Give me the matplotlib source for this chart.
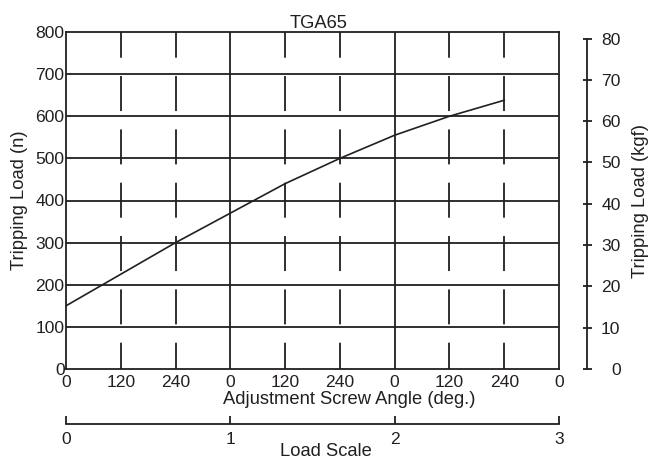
import matplotlib
matplotlib.use("Agg")
import matplotlib.pyplot as plt
import numpy as np

plt.rcParams['font.family'] = ['Liberation Sans', 'DejaVu Sans']
plt.rcParams['lines.scale_dashes'] = False

# ---- data ----
title = "TGA65"
angle_deg = [0, 120, 240, 360, 480, 600, 720, 840, 960]          # cumulative screw angle
load_n = [150, 225, 300, 370, 440, 500, 555, 600, 638]           # tripping load (N)
angle_tick_labels = ["0", "120", "240", "0", "120", "240", "0", "120", "240", "0"]
load_scale_ticks = [0, 1, 2, 3]
y_ticks_n = list(range(0, 801, 100))
y_ticks_kgf = list(range(0, 81, 10))
N_PER_KGF = 9.80665

ink = '#231f20'
FS_LAB = 13.2
FS_TICK = 12.6
W, H, DPI = 648, 466, 100
fig = plt.figure(figsize=(W / DPI, H / DPI), dpi=DPI)

def frac(x0, y0, x1, y1):
    return [x0 / W, 1 - y1 / H, (x1 - x0) / W, (y1 - y0) / H]

L, R, T, B = 66, 559, 32, 369
ax = fig.add_axes(frac(L, T, R, B))
ax.set_xlim(0, 3)
ax.set_ylim(0, 800)

# grid: horizontal solid lines
for v in y_ticks_n[1:-1]:
    ax.axhline(v, color=ink, lw=1.3, zorder=1)
# vertical lines: solid at whole turns, dashed at 120/240 deg
pxpt = DPI / 72.0
dash = (8.7 / pxpt, (35 / pxpt, 18.33 / pxpt))
tick_pos = [a / 360 for a in range(0, 1081, 120)]
for p in tick_pos[1:-1]:
    if abs(p - round(p)) < 1e-9:
        ax.axvline(p, color=ink, lw=1.3, zorder=1)
    else:
        ax.vlines(p, 0, 800, colors=ink, lw=1.3, linestyles=[dash], zorder=1)

# curve
ax.plot([a / 360 for a in angle_deg], load_n, color=ink, lw=1.2, zorder=3)

for s in ax.spines.values():
    s.set_color(ink)
    s.set_linewidth(1.3)

ax.set_xticks(tick_pos)
ax.set_xticklabels(angle_tick_labels)
ax.set_yticks(y_ticks_n)
ax.tick_params(axis='x', length=0, pad=4.0, labelsize=FS_TICK, colors=ink)
ax.tick_params(axis='y', length=0, pad=1.0, labelsize=FS_TICK, colors=ink)
ax.set_xlabel("Adjustment Screw Angle (deg.)", fontsize=FS_LAB, color=ink)
ax.xaxis.set_label_coords((349 - L) / (R - L), -(399 - B) / (B - T))
ax.xaxis.label.set_va('center')
ax.set_ylabel("Tripping Load (n)", fontsize=FS_LAB, color=ink, labelpad=5.5)
ax.set_title(title, fontsize=FS_LAB, color=ink, pad=1,
             x=(319 - L) / (R - L))

# right kgf axis
ax2 = ax.twinx()
ax2.set_ylim(0, 800 / N_PER_KGF)
for k in ['top', 'bottom', 'left']:
    ax2.spines[k].set_visible(False)
ax2.spines['right'].set_position(('outward', 28 / pxpt))
ax2.spines['right'].set_bounds(0, 80)
ax2.spines['right'].set_color(ink)
ax2.spines['right'].set_linewidth(1.3)
ax2.set_yticks(y_ticks_kgf)
ax2.tick_params(axis='y', direction='inout', length=9 / pxpt, width=1.3,
                colors=ink, labelsize=FS_TICK, pad=29 / pxpt)
for lab in ax2.get_yticklabels():
    lab.set_horizontalalignment('right')
ax2.set_ylabel("Tripping Load (kgf)", fontsize=FS_LAB, color=ink, labelpad=8)

# load scale axis
ax3 = fig.add_axes(frac(L, 400, R, 424))
ax3.set_xlim(0, 3)
ax3.set_ylim(0, 1)
for k in ['top', 'left', 'right']:
    ax3.spines[k].set_visible(False)
ax3.spines['bottom'].set_color(ink)
ax3.spines['bottom'].set_linewidth(1.3)
ax3.patch.set_visible(False)
ax3.set_yticks([])
ax3.set_xticks(load_scale_ticks)
ax3.tick_params(axis='x', direction='in', length=8 / pxpt, width=1.3,
                colors=ink, labelsize=FS_TICK, pad=6)
ax3.set_xlabel("Load Scale", fontsize=FS_LAB, color=ink)
ax3.xaxis.set_label_coords((326 - L) / (R - L), -(452 - 424) / 24)
ax3.xaxis.label.set_va('center')

fig.savefig("out.png", dpi=DPI)
